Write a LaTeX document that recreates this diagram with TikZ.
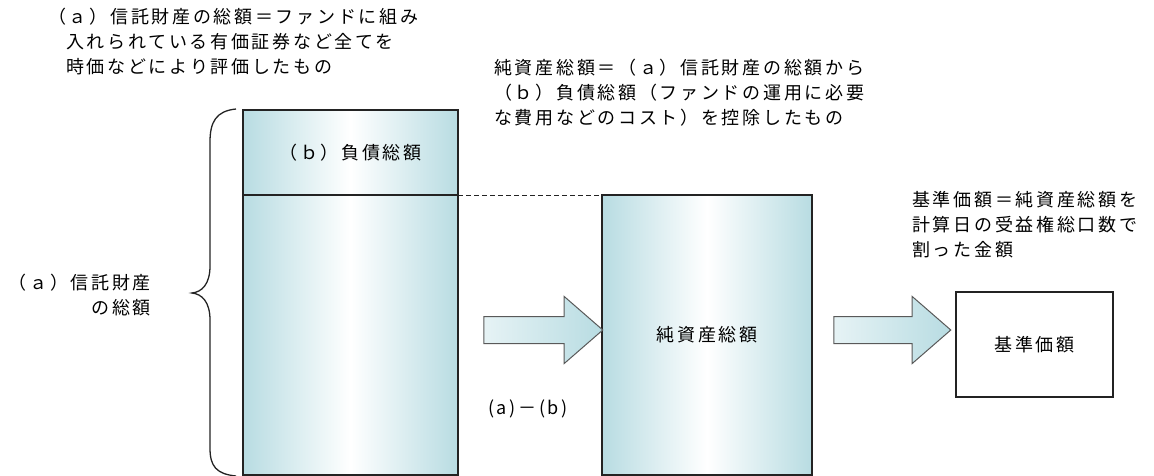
\documentclass[tikz,border=0pt]{standalone}
\usepackage{fontspec}
\setmainfont{Noto Sans CJK JP}[LetterSpace=15]
\usetikzlibrary{shapes.arrows,positioning}
\definecolor{boxblue}{RGB}{184,220,226}
\definecolor{edge}{RGB}{35,35,35}

\begin{document}
\begin{tikzpicture}[x=1pt,y=-1pt,font=\fontsize{18}{25}\selectfont]
        \tikzstyle{fund}=[rectangle,draw=edge,line width=1.3pt,outer sep=0pt,inner sep=0pt,left color=boxblue,right color=boxblue,middle color=white,minimum width=215pt]
        \tikzstyle{flow}=[single arrow,draw=black!65,line width=1pt,left color=boxblue!35,right color=boxblue,inner sep=13pt,minimum width=66pt,single arrow head extend=20pt,single arrow tip angle=82]
        \tikzstyle{note}=[align=left,inner sep=0pt,anchor=north west]
        \useasboundingbox (0,0) rectangle (1154,476);
        % fund, net assets, base price
        \node[fund,minimum height=85pt] (liab) at (350.5,152.5) {（ｂ）負債総額};
        \node[fund,minimum height=280pt,below=0pt of liab] (asset) {};
        \node[fund,minimum width=210pt,minimum height=280pt] (net) at (707,335) {純資産総額};
        \node[draw=edge,line width=1.3pt,minimum width=157pt,minimum height=105pt] (nav) at (1034.5,344.5) {基準価額};
        \node[flow,minimum height=119pt] (sub) at (535.5,330) {};
        \node[flow,minimum height=117pt] (div) at (884.5,330) {};
        \draw[edge,line width=1pt,dash pattern=on 5pt off 3pt] (liab.south east) -- (net.north west);
        % brace
        \draw[edge,line width=1.3pt] (236,109) .. controls (216,111) and (210,122) .. (210,142) -- (210,266)
            .. controls (210,284) and (202,292) .. (192,293) .. controls (202,294) and (210,302) .. (210,320)
            -- (210,448) .. controls (210,466) and (216,474) .. (236,476);
        % texts
        \node[note] (deftotal) at (48,8) {（ａ）信託財産の総額＝ファンドに組み\\\hspace*{18pt}入れられている有価証券など全てを\\\hspace*{18pt}時価などにより評価したもの};
        \node[note] (defnet) at (494,59) {純資産総額＝（ａ）信託財産の総額から\\（ｂ）負債総額（ファンドの運用に必要\\な費用などのコスト）を控除したもの};
        \node[note] (defnav) at (912,191) {基準価額＝純資産総額を\\計算日の受益権総口数で\\割った金額};
        \node[align=right,inner sep=0pt,anchor=north east] (assetlabel) at (151,274) {（ａ）信託財産\\の総額};
        \node (diff) at (528,409) {(a)－(b)};
\end{tikzpicture}
\end{document}
